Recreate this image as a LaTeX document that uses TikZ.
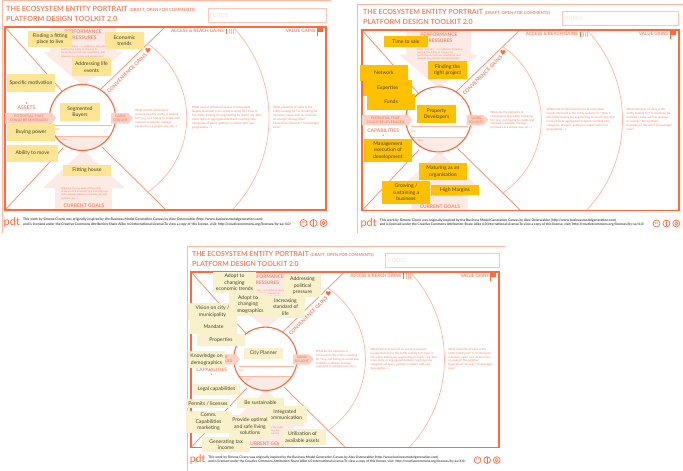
\documentclass[tikz,border=0pt]{standalone}
\usepackage{fontspec}
\setmainfont{Lato}
\definecolor{frameor}{HTML}{FF6A3D}
\definecolor{thinor}{HTML}{FFB9A3}
\definecolor{lineor}{HTML}{FF8A66}
\definecolor{titleor}{HTML}{F58562}
\definecolor{labelor}{HTML}{F8876A}
\definecolor{paleor}{HTML}{FCEBE5}
\definecolor{tagor}{HTML}{FAD3C6}
\definecolor{noteor}{HTML}{FFC8B6}
\definecolor{noteink}{HTML}{FBE3DB}
\definecolor{ygentle}{HTML}{FDE594}
\definecolor{ystrong}{HTML}{FFC000}
\definecolor{ypale}{HTML}{F9F1CB}
\definecolor{stickyink}{HTML}{4A4630}
\definecolor{footink}{HTML}{4A4A4A}
\newfontfamily\symbfont{DejaVu Sans}
\tikzset{
  x=1pt,y=-1pt,
  pagerule/.style={draw=thinor,line width=.8pt},
  thinarc/.style={draw=thinor,line width=.7pt},
  spoke/.style={draw=lineor,line width=.7pt},
  tiny/.style={text=labelor,font=\fontsize{3}{3.9}\selectfont,align=left,inner sep=0,anchor=north west},
  tinier/.style={text=labelor,font=\fontsize{2.55}{3.2}\selectfont,align=left,inner sep=0,anchor=north west},
  head/.style={text=labelor,font=\bfseries\fontsize{5}{6}\selectfont,align=center,inner sep=0},
  tagtext/.style={text=labelor,font=\bfseries\fontsize{3.5}{4.3}\selectfont,align=center,inner sep=0},
  stickybox/.style={inner sep=0,align=center,text=stickyink,font=\fontsize{5.1}{6.5}\selectfont},
}
\newcommand{\sticky}[7]{% name fill x1 y1 x2 y2 text
  \node[stickybox,fill=#2,minimum width={(#5-#3)*1pt},minimum height={(#6-#4)*1pt}] (#1) at ({(#3+#5)/2},{(#4+#6)/2}) {#7};}
\newcommand{\portrait}[7]{% prefix ox oy scale label labely doty
\begin{scope}[shift={(#2,#3)},scale=#4,transform shape]
  \node[anchor=west,inner sep=0,text=titleor,font=\bfseries\fontsize{7.2}{8}\selectfont] (#1t1) at (6,9) {THE ECOSYSTEM ENTITY PORTRAIT {\fontsize{4.3}{5}\selectfont (DRAFT, OPEN FOR COMMENTS)}};
  \node[anchor=west,inner sep=0,text=titleor,font=\bfseries\fontsize{7.2}{8}\selectfont] (#1t2) at (6,18.5) {PLATFORM DESIGN TOOLKIT 2.0};
  \draw[draw=noteor,line width=.9pt] (208,8) rectangle (326,22);
  \node[anchor=west,inner sep=0,text=noteink,font=\fontsize{7.5}{9}\selectfont] (#1notes) at (210,15) {notes};
  % arrows
  \fill[paleor] (50,27)--(116,27)--(116,52)--(123,52)--(83,86)--(43,52)--(50,52)--cycle;
  \fill[paleor] (83,150)--(125,188)--(112,188)--(112,209)--(55,209)--(55,188)--(43,188)--cycle;
  % spokes and arcs
  \draw[spoke] (5,27)--(63,92);
  \draw[spoke] (5,210)--(63,148);
  \draw[spoke] (165,27)--(100,90);
  \draw[spoke] (102,147)--(165,209);
  \begin{scope}
    \clip (147,27) rectangle (326,210);
    \draw[thinarc] (96.7,118) circle[radius=90pt];
  \end{scope}
  \begin{scope}
    \clip (136,27) rectangle (326,210);
    \draw[thinarc] (136,118) circle[radius=133pt];
  \end{scope}
  % central circle
  \fill[white] (82.5,117.5) circle[radius=33pt];
  \begin{scope}
    \clip (82.5,117.5) circle[radius=33pt];
    \fill[paleor] (45,136) rectangle (120,152);
    \draw[thinor,line width=.6pt] (45,136)--(120,136);
  \end{scope}
  \draw[thinor,line width=.6pt] (55,125)--(112,125);
  \draw[frameor,line width=1.1pt] (82.5,117.5) circle[radius=33pt];
  \node[tinier] (#1info) at (55,128.5) {Info};
  \node[tinier] (#1spec) at (62,138) {Spec};
  % frame
  \draw[frameor,line width=1.6pt] (5,27) rectangle (326,210);
  % tags
  \fill[tagor] (5,113)--(52,113)--(56,118)--(52,123.5)--(5,123.5)--cycle;
  \node[tagtext] (#1pot) at (29,118.2) {POTENTIAL THAT\\COULD BE LEVERAGED};
  \fill[tagor] (111,113)--(128,113)--(133,118)--(128,123.5)--(111,123.5)--cycle;
  \node[tagtext] (#1gains) at (120.5,118.2) {GAINS\\SOUGHT};
  % headings
  \node[head] (#1perf) at (83,35) {PERFORMANCE\\PRESSURES};
  \node[head] (#1asset) at (26.5,#6) {#5};
  \fill[labelor] (26.5,#7) circle[radius=.8pt];
  \node[head] (#1curr) at (84,206) {CURRENT GOALS};
  \node[head,rotate=45,font=\bfseries\fontsize{5.2}{6}\selectfont] (#1conv) at (127,73) {CONVENIENCE GAINS};
  \node[text=frameor,inner sep=0,font=\symbfont\fontsize{7}{8}\selectfont] (#1heart) at (148,50.5) {♥};
  \node[head,anchor=east,font=\bfseries\fontsize{4.6}{5.5}\selectfont] (#1access) at (224,31) {ACCESS \& REACH GAINS};
  \fill[frameor] (225.5,28.5) rectangle (227,34);
  \draw[thinor,line width=.4pt] (229,28.5)--(229,34) (231,28.5)--(231,34) (233,28.5)--(233,34);
  \node[head,anchor=east,font=\bfseries\fontsize{4.6}{5.5}\selectfont] (#1value) at (315.5,31) {VALUE GAINS};
  \fill[frameor] (317,28) rectangle (323,32);
  \draw[frameor,line width=.4pt] (317,28)--(317,36);
  % explanatory texts
  \node[tinier] (#1dp) at (61,45.5) {Who - and why - a conditioner disruption\\pushing the entity to improve its\\performance, find new capabilities, and\\develop new choices and approaches?};
  \node[tinier] (#1dg) at (61,187.5) {What are the key goals of the entity\\in the current moment? (e.g. learning new\\skills, growing business, reaching lots and\\optimise, etc...)};
  \node[tiny] (#1d1) at (135,109) {What are the elements of\\convenience the entity is looking\\for? (e.g. not having to create and\\maintain a website, manage\\payments in a simple way, etc...)};
  \node[tiny] (#1d2) at (192,106.5) {What kind of enhanced access to ecosystem\\(supply/demand) is the entity seeking for? How is\\the entity looking for augmenting its reach? (eg: find\\more niche or aggregated demand, reaching new\\categories of peers, getting in contact with new\\geographies ...)};
  \node[tiny] (#1d3) at (273,106.5) {What elements of value is the\\entity looking for? Is it looking for\\monetary value such as revenues\\or savings? Recognition?\\Experience? Security? Knowledge?\\Love?};
  % footer
  \node[anchor=west,inner sep=0,text=frameor,font=\fontsize{11}{12}\selectfont] (#1logo) at (3.5,222.5) {pdt};
  \node[anchor=north west,inner sep=0,text=footink,align=left,font=\bfseries\fontsize{3.4}{4.6}\selectfont] (#1foot) at (23,218) {This work by Simone Cicero was originally inspired by the Business Model Generation Canvas by Alex Osterwalder (http://www.businessmodelgeneration.com)\\and is licensed under the Creative Commons Attribution-Share Alike 4.0 International License.To view a copy of this license, visit: http://creativecommons.org/licenses/by-sa/4.0/};
  \draw[frameor,line width=.7pt] (303.5,223) circle[radius=3.5pt] (313.5,223) circle[radius=3.5pt] (323.5,223) circle[radius=3.5pt];
  \node[inner sep=0,text=frameor,font=\bfseries\fontsize{3.6}{4}\selectfont] (#1cc) at (303.5,223) {cc};
  \draw[frameor,line width=.7pt] (313.5,221)--(313.5,226);
  \fill[frameor] (313.5,220.5) circle[radius=.7pt];
  \draw[frameor,line width=.6pt] (323.5,223) circle[radius=1.6pt];
\end{scope}}
\begin{document}
\begin{tikzpicture}
\useasboundingbox (0,0) rectangle (683,471);
\fill[white] (0,0) rectangle (683,471);
% page rules
\draw[pagerule] (2,.5)--(331,.5) (2,.5)--(2,233);
\draw[pagerule] (357,4)--(683,4) (357,4)--(357,233);
\draw[pagerule] (187,246)--(505,246) (187,246)--(187,471);
\portrait{a}{0}{0}{1}{ASSETS}{107.5}{103}
\portrait{b}{357}{3.4}{.987}{CAPABILITIES}{129.3}{133.5}
\portrait{c}{186.2}{246}{.96}{CAPABILITIES}{129.3}{133.5}
% panel 1
\sticky{a1}{ygentle}{28}{31}{72}{47}{Finding a fitting\\place to live}
\sticky{a2}{ygentle}{105}{32}{144}{49}{Economic\\trends}
\sticky{a3}{ygentle}{72}{58}{111}{76}{Addressing life\\events}
\sticky{a4}{ygentle}{7}{74}{55}{92}{Specific motivation}
\sticky{a5}{ygentle}{60}{103}{100}{121}{Segmented\\Buyers}
\sticky{a6}{ygentle}{7}{124}{55}{141}{Buying power}
\sticky{a7}{ygentle}{7}{145}{58}{162}{Ability to move}
\sticky{a8}{ygentle}{63}{165}{111}{176}{Fitting house}
% panel 2
\sticky{b1}{ystrong}{384}{36}{428}{47}{Time to sale}
\sticky{b2}{ystrong}{428}{61}{467}{79}{Finding the\\right project}
\sticky{b3}{ystrong}{360}{65}{408}{81}{Network}
\sticky{b4}{ystrong}{363}{80}{412}{96}{Expertise}
\sticky{b5}{ystrong}{367}{94}{415}{110}{Funds}
\sticky{b6}{ystrong}{417}{105}{456}{123}{Property\\Developers}
\sticky{b7}{ystrong}{364}{139}{412}{162}{Management\\execution of\\development}
\sticky{b8}{ystrong}{419}{163}{467}{180}{Maturing as an\\organisation}
\sticky{b9}{ystrong}{431}{185}{479}{195}{High Margins}
\sticky{b10}{ystrong}{382}{181}{430}{204}{Growing /\\sustaining a\\business}
% panel 3
\sticky{c1}{ypale}{213}{272}{256}{293}{Adopt to\\changing\\economic trends}
\sticky{c2}{ypale}{284}{275}{321}{297}{Addressing\\political\\pressure}
\sticky{c3}{ypale}{229}{293}{267}{316}{Adopt to\\changing\\demographics}
\sticky{c4}{ypale}{266}{296}{305}{318}{Increasing\\standard of\\life}
\sticky{c5}{ypale}{188}{303}{237}{320}{Vision on city /\\municipality}
\sticky{c6}{ypale}{190}{320}{237}{334}{Mandate}
\sticky{c7}{ypale}{197}{334}{245}{346}{Properties}
\sticky{c8}{ypale}{244}{348}{283}{359}{City Planner}
\sticky{c9}{ypale}{188}{351}{225}{368}{Knowledge on\\demographics}
\sticky{c10}{ypale}{193}{384}{240}{395}{Legal capabilities}
\sticky{c11}{ypale}{186}{399}{230}{408}{Permits / licenses}
\sticky{c12}{ypale}{237}{398}{284}{408}{Be sustainable}
\sticky{c13}{ypale}{263}{406}{307}{423}{Integrated\\communication}
\sticky{c14}{ypale}{186}{411}{231}{433}{Comm.\\Capabilities\\marketing}
\sticky{c15}{ypale}{229}{415}{271}{438}{Provide optimal\\and safe living\\solutions}
\sticky{c16}{ypale}{279}{429}{326}{445}{Utilization of\\available assets}
\sticky{c17}{ypale}{202}{437}{250}{452}{Generating tax\\income}
\end{tikzpicture}
\end{document}
